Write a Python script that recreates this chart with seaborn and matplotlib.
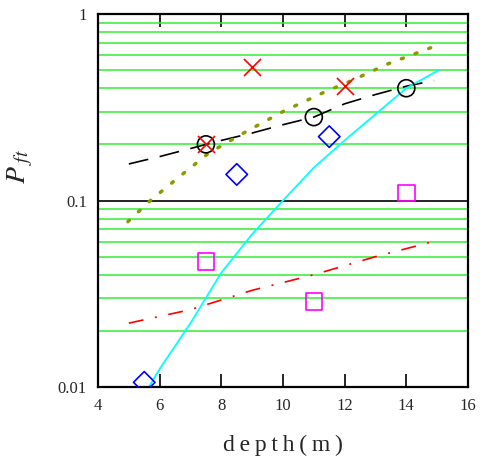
import numpy as np
import pandas as pd
import matplotlib
matplotlib.use("Agg")
import matplotlib.pyplot as plt
import seaborn as sns

# measured points
circle_x = [7.5, 11, 14]
circle_y = [0.20, 0.28, 0.40]
cross_x = [7.5, 9, 12]
cross_y = [0.20, 0.52, 0.41]
diamond_x = [5.5, 8.5, 11.5]
diamond_y = [0.0106, 0.138, 0.22]
square_x = [7.5, 11, 14]
square_y = [0.047, 0.0287, 0.11]

# fitted curves
black_x = [5, 6, 7, 8, 9, 10, 11, 12, 13, 14, 14.9]
black_y = [0.157, 0.172, 0.19, 0.21, 0.23, 0.255, 0.28, 0.33, 0.37, 0.41, 0.44]
olive_x = [4.97, 5.7, 6.66, 7.6, 8.7, 10, 11.4, 12.1, 13.4, 14.8]
olive_y = [0.077, 0.10, 0.135, 0.18, 0.229, 0.30, 0.385, 0.43, 0.54, 0.66]
cyan_x = [5.65, 6, 7, 8, 9, 10, 11, 12, 13, 14, 15.05]
cyan_y = [0.0100, 0.0125, 0.022, 0.041, 0.066, 0.10, 0.15, 0.21, 0.29, 0.40, 0.50]
red_x = [5, 7, 9, 11, 13, 15]
red_y = [0.022, 0.026, 0.033, 0.040, 0.050, 0.061]

sns.set_style("white")
plt.rcParams['font.family'] = ['Liberation Serif', 'DejaVu Serif']
plt.rcParams['mathtext.fontset'] = 'stix'

fig = plt.figure(figsize=(4.88, 4.65), dpi=100)
ax = fig.add_axes([0.2008, 0.1677, 0.7582, 0.8022])

ax.set_yscale('log')
ax.set_xlim(4, 16)
ax.set_ylim(0.01, 1)

# green grid lines at minor positions, black one at 0.1
ax.set_yticks([0.01, 0.1, 1])
ax.set_yticklabels(['0.01', '0.1', '1'])
ax.set_yticks([v * d for d in (0.01, 0.1) for v in range(2, 10)], minor=True)
ax.set_yticklabels([], minor=True)
ax.grid(which='minor', axis='y', color='#33ee33', lw=1.1)
ax.grid(which='major', axis='y', color='black', lw=1.2)
ax.grid(False, axis='x')
ax.set_axisbelow(True)

sns.lineplot(x=black_x, y=black_y, ax=ax, color='black', lw=1.2,
             linestyle=(0, (12, 7)))
sns.lineplot(x=olive_x, y=olive_y, ax=ax, color='#8a9a00', lw=2.5,
             linestyle=(0, (0.6, 3.6)), dash_capstyle='round')
sns.lineplot(x=cyan_x, y=cyan_y, ax=ax, color='cyan', lw=1.3)
sns.lineplot(x=red_x, y=red_y, ax=ax, color='red', lw=1.2,
             linestyle=(0, (9, 7, 1.2, 7)))

sns.scatterplot(x=circle_x, y=circle_y, ax=ax, marker='o', s=150,
                facecolor='none', edgecolor='black', linewidth=1.2, zorder=5)
sns.scatterplot(x=cross_x, y=cross_y, ax=ax, marker='x', s=150,
                color='red', linewidth=1.2, zorder=5)
sns.scatterplot(x=diamond_x, y=diamond_y, ax=ax, marker='D', s=120,
                facecolor='none', edgecolor='blue', linewidth=1.2, zorder=5)
sns.scatterplot(x=square_x, y=square_y, ax=ax, marker='s', s=140,
                facecolor='none', edgecolor='magenta', linewidth=1.2, zorder=5)

ax.set_xticks([4, 6, 8, 10, 12, 14, 16])
ax.tick_params(axis='x', which='major', direction='in', top=True, bottom=True,
               length=9.5, width=1.2, color='black', labelsize=12, pad=8)
ax.tick_params(axis='y', which='both', length=0, labelsize=12, pad=8)
for s in ax.spines.values():
    s.set_color('black')
    s.set_linewidth(1.6)

ax.set_xlabel('d\u2009e\u2009p\u2009t\u2009h\u2009(\u2009m\u2009)', fontsize=17, labelpad=15)
ax.set_ylabel(r'$P_{\ ft}$', fontsize=20)
ax.yaxis.set_label_coords(-0.17, 0.59)

fig.savefig('out.png', dpi=100)
